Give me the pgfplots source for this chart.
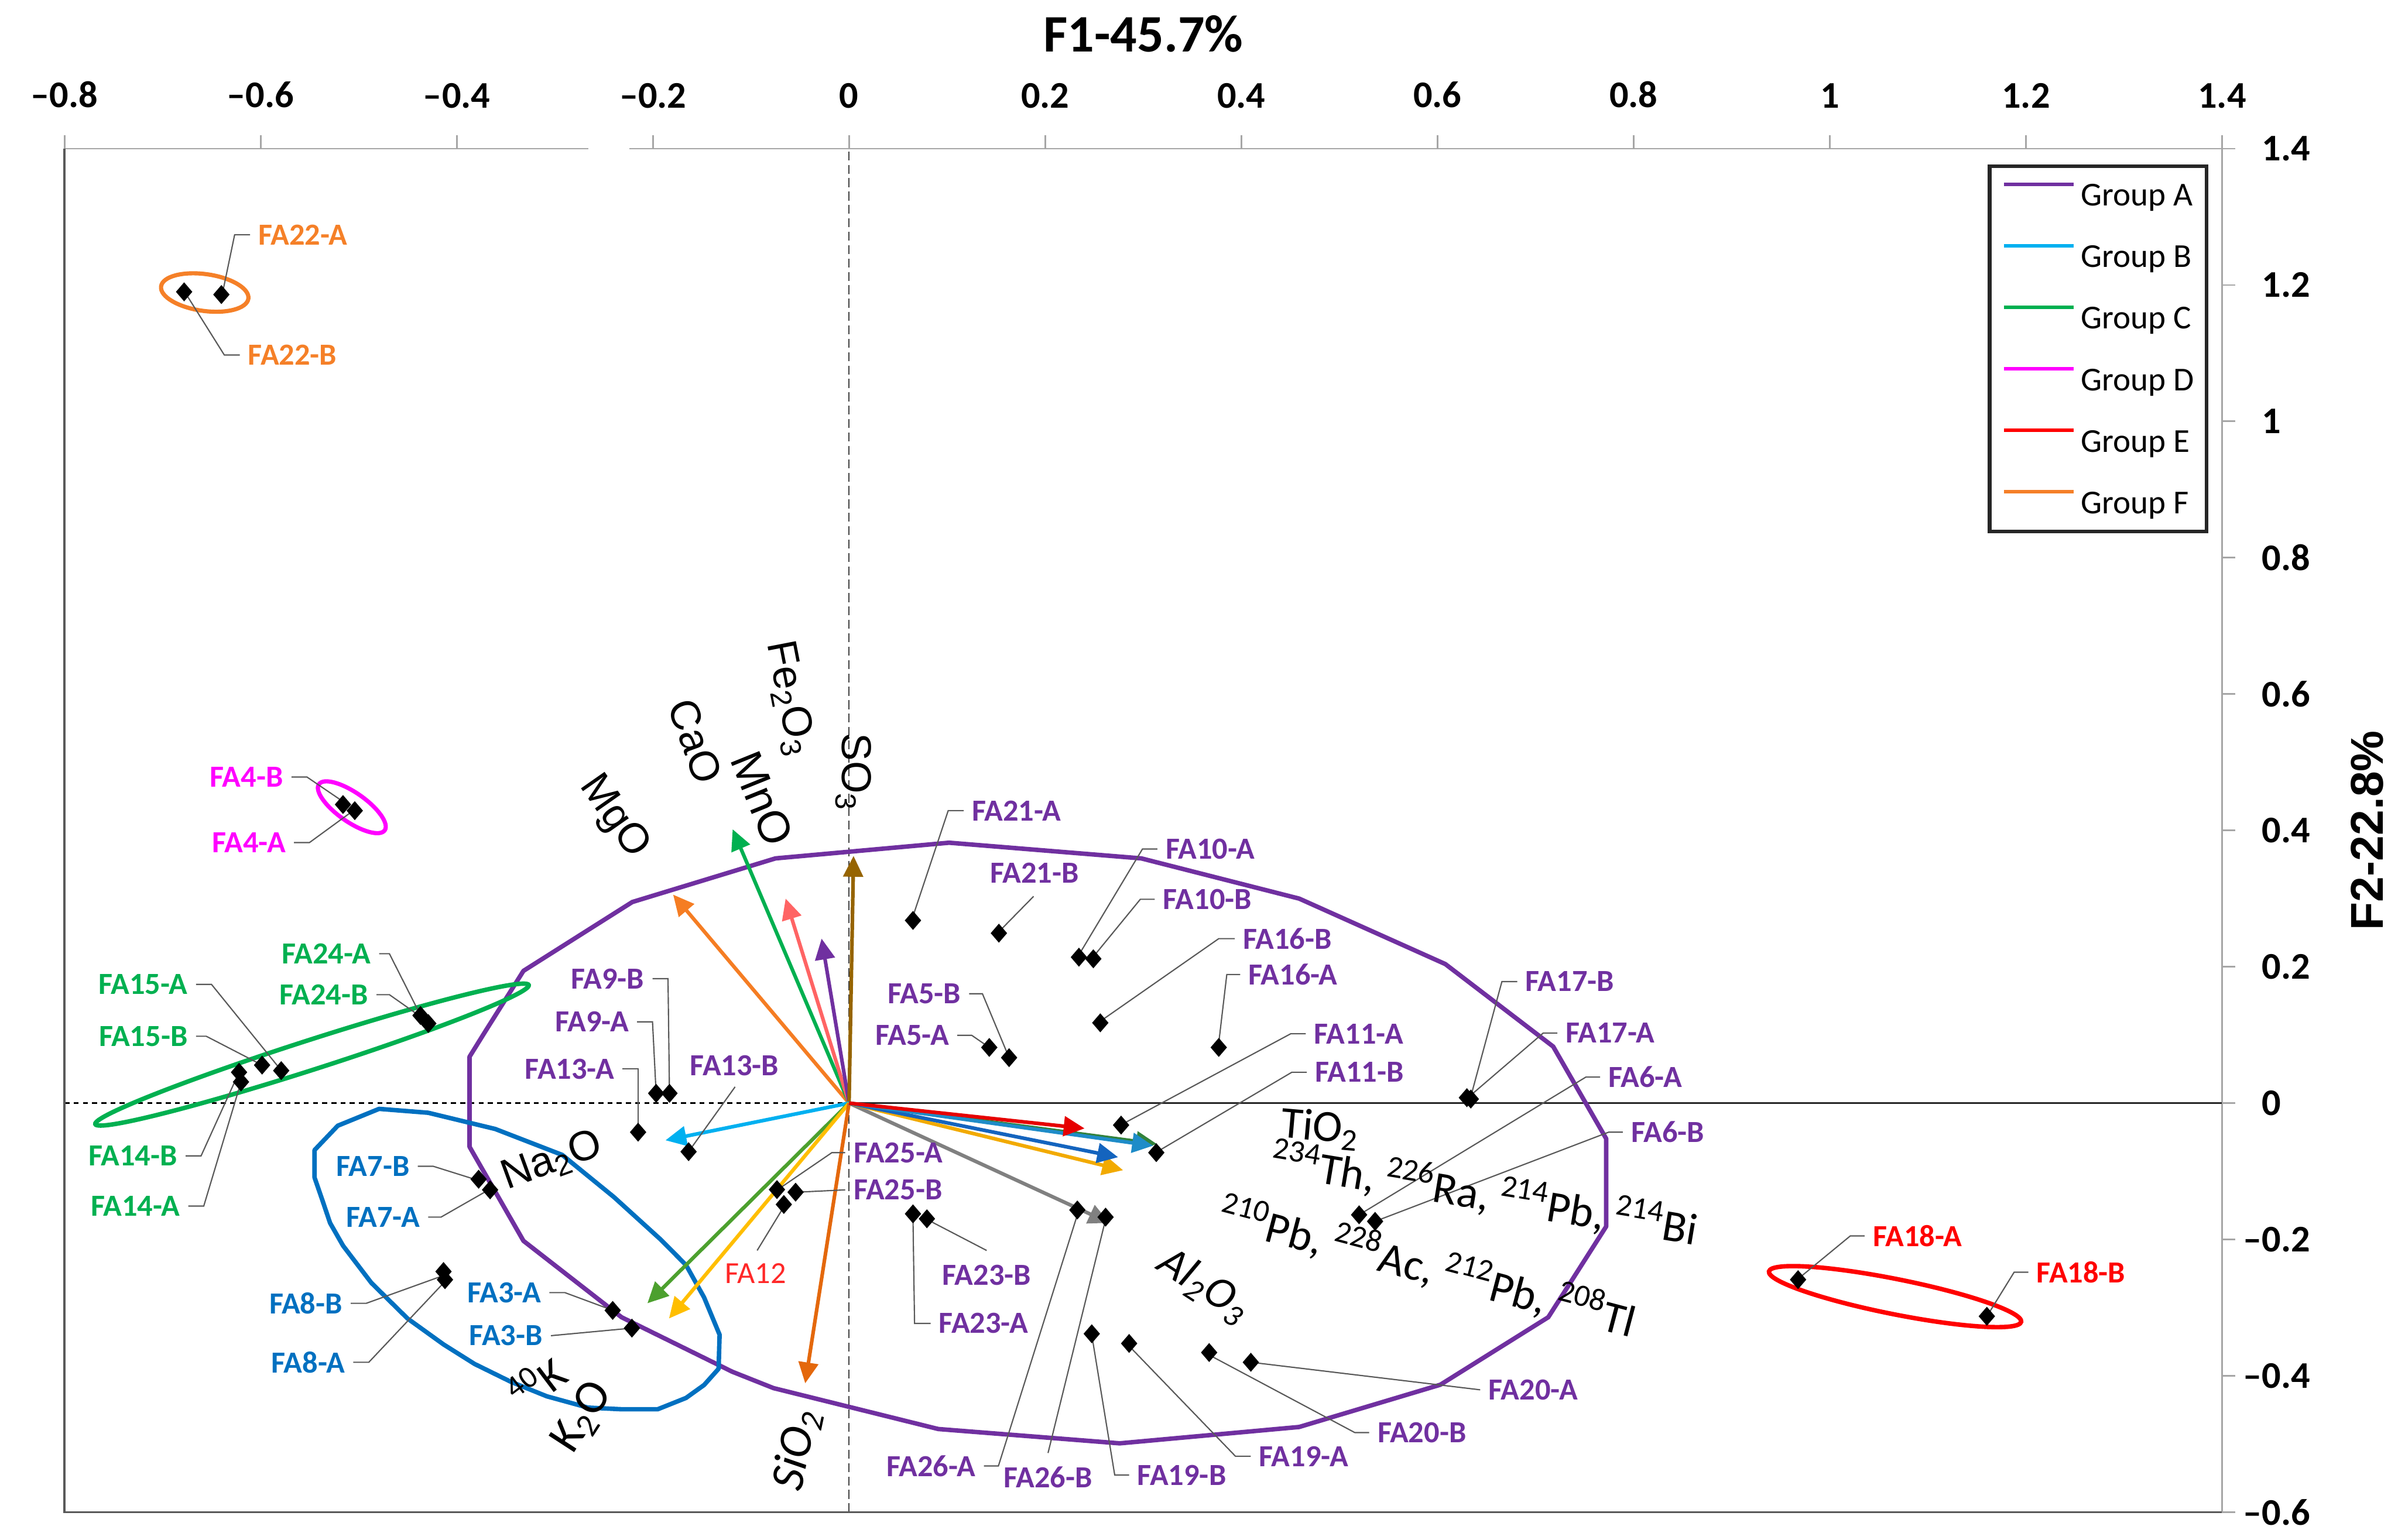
\documentclass[border=0pt]{standalone}
\usepackage{fontspec}
\setmainfont{Carlito}
\newfontfamily\arial{Liberation Sans}
\usepackage{pgfplots}
\pgfplotsset{compat=1.18}
\usetikzlibrary{arrows.meta}

\definecolor{grpA}{RGB}{112,48,160}
\definecolor{grpB}{RGB}{0,112,192}
\definecolor{grpBl}{RGB}{0,176,240}
\definecolor{grpC}{RGB}{0,176,80}
\definecolor{grpD}{RGB}{255,0,255}
\definecolor{grpE}{RGB}{255,0,0}
\definecolor{grpF}{RGB}{245,128,40}
\definecolor{axgray}{RGB}{166,166,166}
\definecolor{axdark}{RGB}{89,89,89}
% loading vectors
\definecolor{vMg}{RGB}{245,125,35}
\definecolor{vCa}{RGB}{0,176,80}
\definecolor{vFe}{RGB}{255,100,100}
\definecolor{vMn}{RGB}{112,48,160}
\definecolor{vSO}{RGB}{150,100,0}
\definecolor{vNa}{RGB}{0,176,240}
\definecolor{vK}{RGB}{76,160,46}
\definecolor{vKy}{RGB}{255,190,0}
\definecolor{vSi}{RGB}{228,104,12}
\definecolor{vTi}{RGB}{230,0,0}
\definecolor{vTh}{RGB}{50,130,60}
\definecolor{vRa}{RGB}{30,140,200}
\definecolor{vPb}{RGB}{20,100,190}
\definecolor{vAc}{RGB}{242,170,0}
\definecolor{vAl}{RGB}{128,128,128}

\tikzset{
  lead/.style={draw=black!65, line width=0.45pt},
  lbl/.style={font=\fontsize{11}{11}\selectfont\bfseries, inner sep=0pt},
  ox/.style={font=\arial\fontsize{15}{15}\selectfont, inner sep=0pt},
  oxc/.style={font=\fontsize{16}{16}\selectfont, inner sep=0pt},
}
\pgfplotsset{vec/.style={line width=1.3pt, -{Triangle[length=7.5pt,width=7pt]}, forget plot}}
\newcommand\LabW[4]{\node[lbl,text=#1,anchor=west,xshift=2.8pt] at (axis cs:#2,#3) {#4};}
\newcommand\LabE[4]{\node[lbl,text=#1,anchor=east,xshift=-2.8pt] at (axis cs:#2,#3) {#4};}
\newcommand\LabC[4]{\node[lbl,text=#1] at (axis cs:#2,#3) {#4};}

\begin{document}
\begin{tikzpicture}
\begin{axis}[
  at={(0,0)}, anchor=south west,
  scale only axis, width=773.6pt, height=489pt,
  xmin=-0.8, xmax=1.4, ymin=-0.6, ymax=1.4,
  clip=false,
  axis line style={draw=axgray, line width=0.6pt},
  xtick={-0.8,-0.6,-0.4,-0.2,0,0.2,0.4,0.6,0.8,1,1.2,1.4},
  xticklabels={–0.8,–0.6,–0.4,–0.2,0,0.2,0.4,0.6,0.8,1,1.2,1.4},
  ytick={-0.6,-0.4,-0.2,0,0.2,0.4,0.6,0.8,1,1.2,1.4},
  yticklabels={\llap{–}0.6,\llap{–}0.4,\llap{–}0.2,0,0.2,0.4,0.6,0.8,1,1.2,1.4},
  xtick pos=right, ytick pos=right,
  xticklabel pos=right, yticklabel pos=right,
  tick align=outside, major tick length=4.8pt,
  tick style={draw=axgray, line width=0.6pt},
  ticklabel style={font=\bfseries\fontsize{13.5}{13.5}\selectfont, inner sep=0pt},
  xticklabel style={anchor=south, yshift=9.6pt},
  yticklabel style={anchor=west, xshift=9.3pt},
  legend style={at={(0.9937,0.9885)}, anchor=north east, draw=black!85,
    line width=1.3pt, fill=white, font=\fontsize{12}{12}\selectfont,
    inner xsep=4.5pt, inner ysep=4.45pt, row sep=10.26pt, column sep=2pt,
    nodes={inner sep=0pt, text height=9.8pt, text depth=2pt}},
  legend cell align=left,
  legend image code/.code={\draw[#1, line width=1.3pt] (0pt,3.9pt) -- (24.9pt,3.9pt);},
]
\addlegendimage{color=grpA}\addlegendentry{Group A}
\addlegendimage{color=grpBl}\addlegendentry{Group B}
\addlegendimage{color=grpC}\addlegendentry{Group C}
\addlegendimage{color=grpD}\addlegendentry{Group D}
\addlegendimage{color=grpE}\addlegendentry{Group E}
\addlegendimage{color=grpF}\addlegendentry{Group F}

% reference lines through the origin
\draw[black!75, line width=0.5pt, dash pattern=on 3.2pt off 1.6pt] (0,-0.6) -- (0,1.4);
\draw[black, line width=0.6pt, dash pattern=on 1.8pt off 1.5pt] (-0.8,0) -- (0,0);
\draw[black!85, line width=0.6pt] (0,0) -- (1.4,0);
% dark left and bottom border
\draw[axdark, line width=0.8pt] (-0.8,1.4) -- (-0.8,-0.6) -- (1.4,-0.6);
\fill[white] ([yshift=-1.2pt]-0.266,1.4) rectangle ([yshift=1.2pt]-0.224,1.4);

% group A hull
\addplot[grpA, line width=1.6pt, line join=round, forget plot] coordinates {
 (-0.332,0.194) (-0.221,0.295) (-0.075,0.359) (0.102,0.382) (0.298,0.359)
 (0.459,0.300) (0.608,0.204) (0.718,0.083) (0.772,-0.052) (0.772,-0.181)
 (0.713,-0.314) (0.603,-0.413) (0.459,-0.475) (0.276,-0.499) (0.091,-0.478)
 (-0.077,-0.418) (-0.119,-0.394) (-0.232,-0.314) (-0.332,-0.202) (-0.387,-0.064)
 (-0.387,0.068) (-0.371,0.105)} -- cycle;
% group B hull
\addplot[grpB, line width=1.6pt, line join=round, forget plot] coordinates {
 (-0.4792,-0.0084) (-0.4292,-0.0141) (-0.3608,-0.0379) (-0.2925,-0.0759)
 (-0.2398,-0.1377) (-0.1925,-0.1995) (-0.1662,-0.2375) (-0.1478,-0.2850)
 (-0.1320,-0.3397) (-0.1330,-0.3896) (-0.1478,-0.4134) (-0.1662,-0.4324)
 (-0.1951,-0.4490) (-0.2320,-0.4490) (-0.2662,-0.4466) (-0.3082,-0.4300)
 (-0.3450,-0.4086) (-0.3819,-0.3825) (-0.4134,-0.3540) (-0.4502,-0.3159)
 (-0.4871,-0.2636) (-0.5160,-0.2090) (-0.5292,-0.1757) (-0.5370,-0.1425)
 (-0.5450,-0.1092) (-0.5450,-0.0688) (-0.5213,-0.0331)} -- cycle;
% group ellipses
\draw[grpC, line width=1.6pt] (-0.5476,0.0712) circle [x radius=81.6pt, y radius=5.3pt, rotate=17.8];
\draw[grpD, line width=1.5pt] (-0.507,0.434) circle [x radius=14.4pt, y radius=5.2pt, rotate=-35];
\draw[grpE, line width=1.6pt] (1.0666,-0.2838) circle [x radius=46.1pt, y radius=6.3pt, rotate=-11.3];
\draw[grpF, line width=1.5pt] (-0.657,1.189) circle [x radius=15.8pt, y radius=6.6pt, rotate=-8];

% loading vectors
\addplot[vec, vMg] coordinates {(0,0) (-0.1794,0.3059)};
\addplot[vec, vCa] coordinates {(0,0) (-0.1187,0.4018)};
\addplot[vec, vFe] coordinates {(0,0) (-0.0647,0.3001)};
\addplot[vec, vMn] coordinates {(0,0) (-0.0280,0.2414)};
\addplot[vec, vSO] coordinates {(0,0) (0.0046,0.3627)};
\addplot[vec, vNa] coordinates {(0,0) (-0.1872,-0.0545)};
\addplot[vec, vK] coordinates {(0,0) (-0.2056,-0.2936)};
\addplot[vec, vKy] coordinates {(0,0) (-0.1836,-0.3159)};
\addplot[vec, vSi] coordinates {(0,0) (-0.0447,-0.4110)};
\addplot[vec, vAl] coordinates {(0,0) (0.2655,-0.1757)};
\addplot[vec, vAc] coordinates {(0,0) (0.2795,-0.0984)};
\addplot[vec, vPb] coordinates {(0,0) (0.2744,-0.0793)};
\addplot[vec, vTh] coordinates {(0,0) (0.3140,-0.0600)};
\addplot[vec, vRa] coordinates {(0,0) (0.3100,-0.0625)};
\addplot[vec, vTi] coordinates {(0,0) (0.2402,-0.0371)};

% leader lines and sample labels
\draw[lead] (-0.6107,1.2737) -- (-0.6265,1.2737) -- (-0.6386,1.190);
\LabW{grpF}{-0.6107}{1.2737}{FA22-A}
\draw[lead] (-0.6212,1.0973) -- (-0.637,1.0973) -- (-0.6764,1.1876);
\LabW{grpF}{-0.6212}{1.0973}{FA22-B}

\draw[lead] (-0.5686,0.4784) -- (-0.5528,0.4784) -- (-0.5144,0.4408);
\LabE{grpD}{-0.5686}{0.4784}{FA4-B}
\draw[lead] (-0.566,0.3822) -- (-0.5502,0.3822) -- (-0.5055,0.4291);
\LabE{grpD}{-0.566}{0.3822}{FA4-A}

\draw[lead] (-0.4792,0.2192) -- (-0.4687,0.2192) -- (-0.437,0.129);
\LabE{grpC}{-0.4792}{0.2192}{FA24-A}
\draw[lead] (-0.4818,0.1591) -- (-0.4687,0.1591) -- (-0.433,0.123);
\LabE{grpC}{-0.4818}{0.1591}{FA24-B}
\draw[lead] (-0.6659,0.1742) -- (-0.6501,0.1742) -- (-0.579,0.048);
\LabE{grpC}{-0.6659}{0.1742}{FA15-A}
\draw[lead] (-0.6659,0.0981) -- (-0.6554,0.0981) -- (-0.5985,0.0558);
\LabE{grpC}{-0.6659}{0.0981}{FA15-B}
\draw[lead] (-0.6764,-0.0773) -- (-0.6607,-0.0773) -- (-0.622,0.0453);
\LabE{grpC}{-0.6764}{-0.0773}{FA14-B}
\draw[lead] (-0.6738,-0.151) -- (-0.658,-0.151) -- (-0.620,0.031);
\LabE{grpC}{-0.6738}{-0.151}{FA14-A}

\draw[lead] (-0.4397,-0.0926) -- (-0.424,-0.0926) -- (-0.3819,-0.1116);
\LabE{grpB}{-0.4397}{-0.0926}{FA7-B}
\draw[lead] (-0.4292,-0.1672) -- (-0.4161,-0.1672) -- (-0.3687,-0.1282);
\LabE{grpB}{-0.4292}{-0.1672}{FA7-A}
\draw[lead] (-0.5081,-0.2936) -- (-0.4923,-0.2936) -- (-0.416,-0.2541);
\LabE{grpB}{-0.5081}{-0.2936}{FA8-B}
\draw[lead] (-0.5055,-0.3801) -- (-0.4897,-0.3801) -- (-0.4134,-0.2637);
\LabE{grpB}{-0.5055}{-0.3801}{FA8-A}
\draw[lead] (-0.3056,-0.2779) -- (-0.2898,-0.2779) -- (-0.2451,-0.3017);
\LabE{grpB}{-0.3056}{-0.2779}{FA3-A}
\draw[lead] (-0.3040,-0.3411) -- (-0.2214,-0.330);
\LabE{grpB}{-0.3040}{-0.3411}{FA3-B}

\draw[lead] (1.0355,-0.1947) -- (1.021,-0.1947) -- (0.9688,-0.2565);
\LabW{grpE}{1.0355}{-0.1947}{FA18-A}
\draw[lead] (1.2025,-0.248) -- (1.188,-0.248) -- (1.1619,-0.3088);
\LabW{grpE}{1.2025}{-0.248}{FA18-B}
\draw[lead] (-0.0937,-0.2161) -- (-0.0665,-0.152);
\node[font=\fontsize{11}{11}\selectfont, text={rgb,255:red,255;green,40;blue,40}, inner sep=0pt] at (-0.0954,-0.25) {FA12};

\draw[lead] (-0.2004,0.1826) -- (-0.1846,0.1826) -- (-0.1831,0.0144);
\LabE{grpA}{-0.2004}{0.1826}{FA9-B}
\draw[lead] (-0.2162,0.1192) -- (-0.2004,0.1192) -- (-0.1967,0.0144);
\LabE{grpA}{-0.2162}{0.1192}{FA9-A}
\draw[lead] (-0.231,0.05) -- (-0.2151,0.05) -- (-0.2151,-0.0426);
\LabE{grpA}{-0.231}{0.05}{FA13-A}
\draw[lead] (-0.1162,0.0239) -- (-0.1636,-0.0712);
\LabC{grpA}{-0.1168}{0.055}{FA13-B}
\draw[lead] (-0.0039,-0.0726) -- (-0.0175,-0.0726) -- (-0.0692,-0.1234);
\LabW{grpA}{-0.0039}{-0.0726}{FA25-A}
\draw[lead] (-0.0039,-0.1272) -- (-0.0528,-0.1306);
\LabW{grpA}{-0.0039}{-0.1272}{FA25-B}
\draw[lead] (0.1403,-0.2161) -- (0.0832,-0.1734);
\LabC{grpA}{0.1403}{-0.2527}{FA23-B}
\draw[lead] (0.0832,-0.3231) -- (0.0668,-0.3231) -- (0.0652,-0.1686);
\LabW{grpA}{0.0832}{-0.3231}{FA23-A}
\draw[lead] (0.1376,-0.5322) -- (0.1523,-0.5322) -- (0.2328,-0.1638);
\LabE{grpA}{0.1376}{-0.5322}{FA26-A}
\draw[lead] (0.2029,-0.5132) -- (0.2611,-0.1734);
\LabC{grpA}{0.2028}{-0.5488}{FA26-B}
\draw[lead] (0.2856,-0.5455) -- (0.2709,-0.5455) -- (0.248,-0.3444);
\LabW{grpA}{0.2856}{-0.5455}{FA19-B}
\draw[lead] (0.4096,-0.5179) -- (0.394,-0.5179) -- (0.2872,-0.3587);
\LabW{grpA}{0.4096}{-0.5179}{FA19-A}
\draw[lead] (0.5304,-0.4832) -- (0.5157,-0.4832) -- (0.3688,-0.3706);
\LabW{grpA}{0.5304}{-0.4832}{FA20-B}
\draw[lead] (0.6436,-0.4205) -- (0.4151,-0.381);
\LabW{grpA}{0.6436}{-0.4205}{FA20-A}
\draw[lead] (0.1169,0.4291) -- (0.1011,0.4291) -- (0.0652,0.2742);
\LabW{grpA}{0.1169}{0.4291}{FA21-A}
\draw[lead] (0.1882,0.3033) -- (0.1555,0.2554);
\LabC{grpA}{0.1892}{0.3375}{FA21-B}
\draw[lead] (0.3144,0.3728) -- (0.2992,0.3728) -- (0.2355,0.2202);
\LabW{grpA}{0.3144}{0.3728}{FA10-A}
\draw[lead] (0.3117,0.299) -- (0.2970,0.299) -- (0.2508,0.2178);
\LabW{grpA}{0.3117}{0.299}{FA10-B}
\draw[lead] (0.3933,0.2413) -- (0.3770,0.2413) -- (0.26,0.1239);
\LabW{grpA}{0.3933}{0.2413}{FA16-B}
\draw[lead] (0.3988,0.1887) -- (0.3852,0.1887) -- (0.377,0.0887);
\LabW{grpA}{0.3988}{0.1887}{FA16-A}
\draw[lead] (0.1224,0.1605) -- (0.1360,0.1605) -- (0.1632,0.0667);
\LabE{grpA}{0.1224}{0.1605}{FA5-B}
\draw[lead] (0.1104,0.0995) -- (0.1251,0.0995) -- (0.143,0.0817);
\LabE{grpA}{0.1104}{0.0995}{FA5-A}
\draw[lead] (0.4657,0.1018) -- (0.4504,0.1018) -- (0.2818,-0.0284);
\LabW{grpA}{0.4657}{0.1018}{FA11-A}
\draw[lead] (0.4668,0.0453) -- (0.4515,0.0453) -- (0.3171,-0.0688);
\LabW{grpA}{0.4668}{0.0453}{FA11-B}
\draw[lead] (0.6813,0.1783) -- (0.6657,0.1783) -- (0.6345,0.0123);
\LabW{grpA}{0.6813}{0.1783}{FA17-B}
\draw[lead] (0.7223,0.1028) -- (0.7078,0.1028) -- (0.6345,0.0123);
\LabW{grpA}{0.7223}{0.1028}{FA17-A}
\draw[lead] (0.7658,0.0382) -- (0.7513,0.0382) -- (0.5201,-0.1638);
\LabW{grpA}{0.7658}{0.0382}{FA6-A}
\draw[lead] (0.789,-0.0426) -- (0.7745,-0.0426) -- (0.5364,-0.1734);
\LabW{grpA}{0.789}{-0.0426}{FA6-B}

% sample scores
\addplot[only marks, mark=diamond*, mark size=3.1pt, mark options={xscale=1.15}, black, forget plot] coordinates {
 (-0.678,1.190) (-0.640,1.186)
 (-0.516,0.438) (-0.504,0.429)
 (-0.437,0.1286) (-0.429,0.1168) (-0.579,0.0477) (-0.5985,0.0558) (-0.622,0.0453) (-0.620,0.0311)
 (-0.3777,-0.1116) (-0.366,-0.1272) (-0.4135,-0.247) (-0.412,-0.259) (-0.241,-0.304) (-0.2214,-0.330)
 (0.9677,-0.2589) (1.1602,-0.3126) (-0.0665,-0.1486)
 (0.0652,0.268) (0.1528,0.2493) (0.2344,0.2141) (0.2491,0.2117) (0.2562,0.1178) (0.377,0.0817)
 (0.143,0.0817) (0.1632,0.0667) (0.2774,-0.0322) (0.3133,-0.0726) (0.630,0.008) (0.634,0.006)
 (0.5201,-0.1638) (0.5364,-0.1734) (0.4097,-0.3801) (0.3672,-0.3658) (0.2856,-0.3525) (0.2475,-0.3383)
 (0.2328,-0.1567) (0.2616,-0.1672) (0.0652,-0.1624) (0.0794,-0.1696) (-0.0735,-0.1268) (-0.0545,-0.1306)
 (-0.1967,0.0144) (-0.1831,0.0144) (-0.2151,-0.0426) (-0.1636,-0.0712)
};

% variable names
\node[ox, rotate=-55] at (-0.240,0.4196) {MgO};
\node[ox, rotate=-70] at (-0.1566,0.531) {CaO};
\node[ox, rotate=-68, font=\arial\fontsize{16}{16}\selectfont] at (-0.0884,0.4468) {MnO};
\node[ox, rotate=-79] at (-0.061,0.5934) {Fe\textsubscript{2}O\textsubscript{3}};
\node[ox, rotate=-90] at (0.0043,0.4854) {SO\textsubscript{3}};
\node[ox, rotate=20] at (-0.303,-0.0854) {Na\textsubscript{2}O};
\node[oxc, rotate=37] at (-0.3187,-0.4086) {\textsuperscript{40}K};
\node[oxc, rotate=57, font=\fontsize{17}{17}\selectfont] at (-0.2713,-0.4609) {K\textsubscript{2}O};
\node[oxc, rotate=78, font=\itshape\fontsize{17}{17}\selectfont] at (-0.0529,-0.5084) {SiO\textsubscript{2}};
\node[oxc, rotate=-5] at (0.4804,-0.0379) {TiO\textsubscript{2}};
\node[oxc, rotate=-9.4] at (0.648,-0.133) {\textsuperscript{234}Th, \textsuperscript{226}Ra, \textsuperscript{214}Pb, \textsuperscript{214}Bi};
\node[oxc, rotate=-14.8] at (0.590,-0.240) {\textsuperscript{210}Pb, \textsuperscript{228}Ac, \textsuperscript{212}Pb, \textsuperscript{208}Tl};
\node[oxc, rotate=-33, font=\itshape\fontsize{16}{16}\selectfont] at (0.3618,-0.268) {Al\textsubscript{2}O\textsubscript{3}};

% axis titles
\node[anchor=base, inner sep=0pt, font=\bfseries\fontsize{18.9}{18.9}\selectfont] at ([yshift=34.8pt]0.3,1.4) {F1-45.7\%};
\node[rotate=90, inner sep=0pt, font=\arial\bfseries\fontsize{16.5}{16.5}\selectfont] at ([xshift=52.1pt]1.4,0.4) {F2-22.8\%};
\end{axis}
\pgfresetboundingbox
\useasboundingbox (-23.12pt,-9.88pt) rectangle (836.7pt,542.32pt);
\end{tikzpicture}
\end{document}
